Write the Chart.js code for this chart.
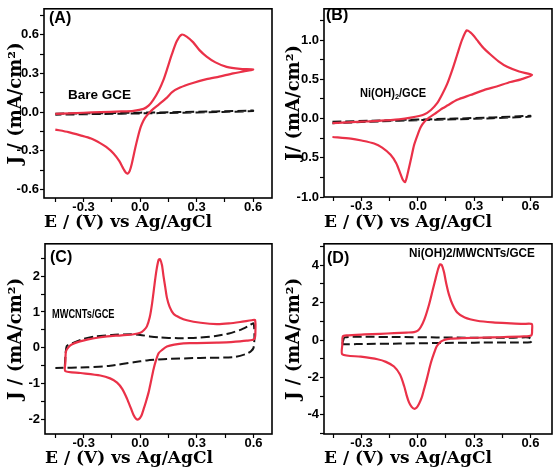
<!DOCTYPE html>
<html>
<head>
<meta charset="utf-8">
<script src="https://cdn.jsdelivr.net/npm/chart.js@4.4.1/dist/chart.umd.min.js"></script>
<style>
  body { margin: 0; background: #fff; }
  #wrap { position: relative; width: 557px; height: 469px; overflow: hidden; }
  .p { position: absolute; }
  .lab { position: absolute; font-family: 'Liberation Sans', Arial, sans-serif; font-weight: bold; color: #000; white-space: nowrap; transform-origin: 0 50%; }
</style>
</head>
<body>
<div id="wrap">
  <div class="p" style="left:0;top:0;width:278px;height:234px"><canvas id="cA"></canvas></div>
  <div class="p" style="left:278px;top:0;width:279px;height:234px"><canvas id="cB"></canvas></div>
  <div class="p" style="left:0;top:235px;width:278px;height:234px"><canvas id="cC"></canvas></div>
  <div class="p" style="left:278px;top:235px;width:279px;height:234px"><canvas id="cD"></canvas></div>

  <div class="lab" style="left:49px;top:9px;font-size:16px;line-height:18px">(A)</div>
  <div class="lab" style="left:326px;top:6px;font-size:16px;line-height:18px">(B)</div>
  <div class="lab" style="left:50px;top:248px;font-size:16px;line-height:18px">(C)</div>
  <div class="lab" style="left:327px;top:249px;font-size:16px;line-height:18px">(D)</div>

  <div class="lab" style="left:68px;top:88px;font-size:13.5px;line-height:14px">Bare GCE</div>
  <div class="lab" style="left:360px;top:86px;font-size:12px;line-height:14px;transform:scaleX(0.92)">Ni(OH)<sub style="font-size:8px;vertical-align:-2px">2</sub>/GCE</div>
  <div class="lab" style="left:52px;top:307px;font-size:12.5px;line-height:14px;transform:scaleX(0.74)">MWCNTs/GCE</div>
  <div class="lab" style="left:409px;top:246px;font-size:13px;line-height:14px;transform:scaleX(0.9)">Ni(OH)2/MWCNTs/GCE</div>
</div>

<script>
// ---- data: potential E (V) and current density J (mA/cm2) ----

// (A) Bare GCE
const aRedE = [-0.45, -0.3, -0.21, -0.1, -0.035, 0.018, 0.045, 0.07, 0.1, 0.123, 0.145, 0.168, 0.195, 0.22, 0.247, 0.282, 0.315, 0.353, 0.4, 0.459, 0.53, 0.6,
               0.55, 0.494, 0.42, 0.353, 0.28, 0.212, 0.17, 0.141, 0.1, 0.07, 0.045, 0.026, 0.01, 0.0, -0.013, -0.026, -0.044, -0.055, -0.065, -0.075, -0.088, -0.11, -0.141, -0.18, -0.212, -0.26, -0.317, -0.38, -0.45];
const aRedJ = [-0.013, -0.005, 0.0, 0.005, 0.01, 0.025, 0.05, 0.095, 0.17, 0.245, 0.34, 0.445, 0.55, 0.6, 0.585, 0.54, 0.48, 0.43, 0.385, 0.35, 0.335, 0.33,
               0.315, 0.3, 0.275, 0.255, 0.225, 0.19, 0.155, 0.11, 0.06, 0.025, -0.01, -0.045, -0.09, -0.13, -0.2, -0.28, -0.4, -0.455, -0.475, -0.47, -0.44, -0.38, -0.32, -0.27, -0.24, -0.205, -0.18, -0.155, -0.135];
const aDashE = [-0.45, -0.2, 0.0, 0.2, 0.4, 0.6, 0.6, 0.4, 0.2, 0.0, -0.2, -0.45];
const aDashJ = [-0.012, -0.008, -0.004, 0.0, 0.005, 0.012, 0.008, 0.0, -0.005, -0.01, -0.014, -0.02];

// (B) Ni(OH)2/GCE
const bRedE = [-0.455, -0.3, -0.215, -0.1, -0.038, 0.033, 0.07, 0.104, 0.13, 0.157, 0.185, 0.21, 0.235, 0.26, 0.28, 0.3, 0.316, 0.35, 0.387, 0.43, 0.476, 0.54, 0.609,
               0.55, 0.494, 0.42, 0.352, 0.28, 0.21, 0.16, 0.121, 0.09, 0.06, 0.035, 0.015, 0.0, -0.02, -0.035, -0.047, -0.058, -0.068, -0.08, -0.092, -0.115, -0.145, -0.19, -0.233, -0.3, -0.357, -0.455];
const bRedJ = [-0.058, -0.04, -0.03, -0.01, 0.012, 0.053, 0.11, 0.2, 0.31, 0.445, 0.63, 0.817, 1.0, 1.125, 1.1, 1.05, 1.0, 0.9, 0.817, 0.73, 0.66, 0.6, 0.555,
               0.5, 0.466, 0.41, 0.363, 0.3, 0.239, 0.17, 0.115, 0.06, 0.012, -0.04, -0.11, -0.2, -0.338, -0.5, -0.627, -0.74, -0.81, -0.78, -0.709, -0.57, -0.462, -0.37, -0.318, -0.28, -0.256, -0.235];
const bDashE = [-0.455, -0.2, 0.0, 0.2, 0.4, 0.6, 0.6, 0.4, 0.2, 0.0, -0.2, -0.455];
const bDashJ = [-0.04, -0.025, -0.012, 0.0, 0.015, 0.035, 0.025, 0.005, -0.01, -0.02, -0.035, -0.058];

// (C) MWCNTs/GCE
const cRedE = [-0.397, -0.394, -0.38, -0.361, -0.32, -0.282, -0.22, -0.176, -0.1, -0.035, 0.0, 0.02, 0.035, 0.05, 0.062, 0.075, 0.085, 0.097, 0.105, 0.115, 0.123, 0.132, 0.141, 0.155, 0.176, 0.21, 0.247, 0.32, 0.406, 0.47, 0.529, 0.59, 0.608,
               0.61, 0.605, 0.564, 0.48, 0.406, 0.3, 0.229, 0.18, 0.141, 0.115, 0.097, 0.083, 0.07, 0.058, 0.044, 0.03, 0.018, 0.005, -0.009, -0.022, -0.035, -0.05, -0.07, -0.095, -0.123, -0.16, -0.212, -0.317, -0.397, -0.397];
const cRedJ = [-0.4, -0.1, 0.02, 0.1, 0.18, 0.23, 0.29, 0.32, 0.35, 0.38, 0.42, 0.5, 0.6, 0.85, 1.22, 1.75, 2.14, 2.45, 2.47, 2.3, 2.0, 1.7, 1.4, 1.15, 0.95, 0.84, 0.77, 0.7, 0.66, 0.68, 0.72, 0.77, 0.78,
               0.45, 0.25, 0.2, 0.16, 0.145, 0.13, 0.127, 0.09, 0.036, -0.06, -0.148, -0.35, -0.6, -0.9, -1.24, -1.5, -1.7, -1.9, -1.99, -1.98, -1.88, -1.68, -1.42, -1.15, -0.97, -0.85, -0.77, -0.7, -0.65, -0.4];
const cDashE = [-0.4, -0.39, -0.353, -0.3, -0.247, -0.15, -0.05, 0.0, 0.05, 0.1, 0.2, 0.3, 0.4, 0.47, 0.53, 0.57, 0.6,
                0.605, 0.6, 0.585, 0.564, 0.494, 0.317, 0.141, 0.035, -0.035, -0.159, -0.282, -0.45];
const cDashJ = [-0.5, 0.05, 0.145, 0.25, 0.31, 0.36, 0.38, 0.36, 0.32, 0.29, 0.27, 0.28, 0.33, 0.4, 0.5, 0.6, 0.68,
                0.3, 0.0, -0.1, -0.165, -0.26, -0.28, -0.31, -0.35, -0.4, -0.5, -0.54, -0.56];

// (D) Ni(OH)2/MWCNTs/GCE
const dRedE = [-0.402, -0.4, -0.38, -0.286, -0.2, -0.127, -0.06, -0.02, 0.0, 0.015, 0.035, 0.06, 0.08, 0.095, 0.108, 0.118, 0.128, 0.139, 0.152, 0.166, 0.185, 0.21, 0.25, 0.316, 0.4, 0.494, 0.56, 0.607,
               0.609, 0.605, 0.565, 0.4, 0.24, 0.175, 0.14, 0.121, 0.1, 0.086, 0.07, 0.06, 0.045, 0.033, 0.02, 0.006, -0.007, -0.02, -0.033, -0.047, -0.06, -0.073, -0.095, -0.127, -0.17, -0.215, -0.304, -0.402, -0.402];
const dRedJ = [-0.2, 0.19, 0.25, 0.3, 0.33, 0.37, 0.4, 0.42, 0.5, 0.68, 1.1, 1.9, 2.7, 3.3, 3.8, 4.05, 4.0, 3.65, 3.0, 2.43, 1.9, 1.47, 1.2, 1.03, 0.94, 0.89, 0.86, 0.855,
               0.55, 0.25, 0.19, 0.14, 0.1, 0.07, 0.0, -0.1, -0.35, -0.72, -1.2, -1.59, -2.2, -2.64, -3.1, -3.42, -3.62, -3.68, -3.58, -3.34, -2.95, -2.46, -1.85, -1.42, -1.17, -1.03, -0.89, -0.77, -0.2];
const dDashE = [-0.4, -0.39, -0.3, -0.1, 0.1, 0.3, 0.5, 0.59, 0.61, 0.6, 0.5, 0.3, 0.1, -0.1, -0.3, -0.4, -0.4];
const dDashJ = [-0.1, 0.14, 0.17, 0.16, 0.14, 0.12, 0.12, 0.14, 0.0, -0.12, -0.13, -0.14, -0.16, -0.19, -0.21, -0.22, -0.1];

const RED = '#ea3148';
const TICK_FONT = { family: "'Liberation Sans', Arial, sans-serif", size: 13, weight: 'bold' };
const TITLE_FONT = { family: "'DejaVu Serif', 'Liberation Serif', serif", size: 17, weight: 'bold' };

function pts(xs, ys) {
  return xs.map((x, i) => ({ x: x, y: ys[i] }));
}

function fmt(v, major, dec) {
  if (Math.abs(v / major - Math.round(v / major)) > 1e-6) return '';
  if (Math.abs(v) < 1e-9) v = 0;
  return v.toFixed(dec);
}

// draws the closed box around the plot area
const frame = {
  id: 'frame',
  afterDraw(chart) {
    const a = chart.chartArea, ctx = chart.ctx;
    ctx.save();
    ctx.strokeStyle = '#000';
    ctx.lineWidth = 1.6;
    ctx.strokeRect(a.left, a.top, a.right - a.left, a.bottom - a.top);
    ctx.restore();
  }
};

function makeChart(id, p) {
  const grid = { display: true, drawOnChartArea: false, drawTicks: true, tickLength: 4, tickColor: '#000', tickWidth: 1.2 };
  return new Chart(document.getElementById(id), {
    type: 'scatter',
    data: {
      datasets: [
        { data: pts(p.redE, p.redJ), showLine: true, borderColor: RED, borderWidth: 2.2, pointRadius: 0, tension: 0.25, order: 1 },
        { data: pts(p.dashE, p.dashJ), showLine: true, borderColor: '#151515', borderWidth: 2, borderDash: [9, 4], pointRadius: 0, tension: 0.2, order: 2 }
      ]
    },
    options: {
      responsive: true,
      maintainAspectRatio: false,
      animation: false,
      events: [],
      layout: { padding: { left: 0, top: p.padTop, right: p.padRight, bottom: 0 } },
      plugins: { legend: { display: false }, tooltip: { enabled: false } },
      scales: {
        x: {
          type: 'linear', min: p.xMin, max: p.xMax,
          grid: grid, border: { display: false },
          ticks: { stepSize: 0.15, includeBounds: false, autoSkip: false, maxRotation: 0, maxTicksLimit: 100, padding: -2, color: '#000', font: TICK_FONT,
                   callback: v => fmt(v, 0.3, 1) },
          title: { display: true, text: 'E / (V) vs Ag/AgCl', align: 'start', color: '#000', font: TITLE_FONT, padding: { top: 0, bottom: p.xTitlePad } },
          afterFit: s => { s.height = p.xH; }
        },
        y: {
          type: 'linear', min: p.yMin, max: p.yMax,
          grid: grid, border: { display: false },
          ticks: { stepSize: p.yStep / 2, includeBounds: false, autoSkip: false, maxTicksLimit: 100, padding: 1, color: '#000', font: TICK_FONT,
                   callback: v => fmt(v, p.yStep, p.yDec) },
          title: { display: true, text: p.yTitle, color: '#000', font: { family: TITLE_FONT.family, size: 18, weight: 'bold' }, padding: { top: 6, bottom: 0 } },
          afterFit: s => { s.width = p.yW; }
        }
      }
    },
    plugins: [frame]
  });
}

makeChart('cA', { redE: aRedE, redJ: aRedJ, dashE: aDashE, dashJ: aDashJ,
  xMin: -0.51, xMax: 0.7, yMin: -0.665, yMax: 0.8, yStep: 0.3, yDec: 1, yTitle: 'J / (mA/cm²)',
  padTop: 3, padRight: 6, yW: 44, xH: 36, xTitlePad: 1 });
makeChart('cB', { redE: bRedE, redJ: bRedJ, dashE: bDashE, dashJ: bDashJ,
  xMin: -0.5, xMax: 0.715, yMin: -1.0, yMax: 1.4, yStep: 0.5, yDec: 1, yTitle: 'J/ (mA/cm²)',
  padTop: 2, padRight: 5, yW: 46, xH: 37, xTitlePad: 1 });
makeChart('cC', { redE: cRedE, redJ: cRedJ, dashE: cDashE, dashJ: cDashJ,
  xMin: -0.505, xMax: 0.698, yMin: -2.4, yMax: 2.9, yStep: 1, yDec: 0, yTitle: 'J / (mA/cm²)',
  padTop: 5, padRight: 6, yW: 45, xH: 35, xTitlePad: 0 });
makeChart('cD', { redE: dRedE, redJ: dRedJ, dashE: dDashE, dashJ: dDashJ,
  xMin: -0.5, xMax: 0.715, yMin: -5.03, yMax: 5.15, yStep: 2, yDec: 0, yTitle: 'J / (mA/cm²)',
  padTop: 5, padRight: 5, yW: 46, xH: 35, xTitlePad: 0 });
</script>
</body>
</html>
